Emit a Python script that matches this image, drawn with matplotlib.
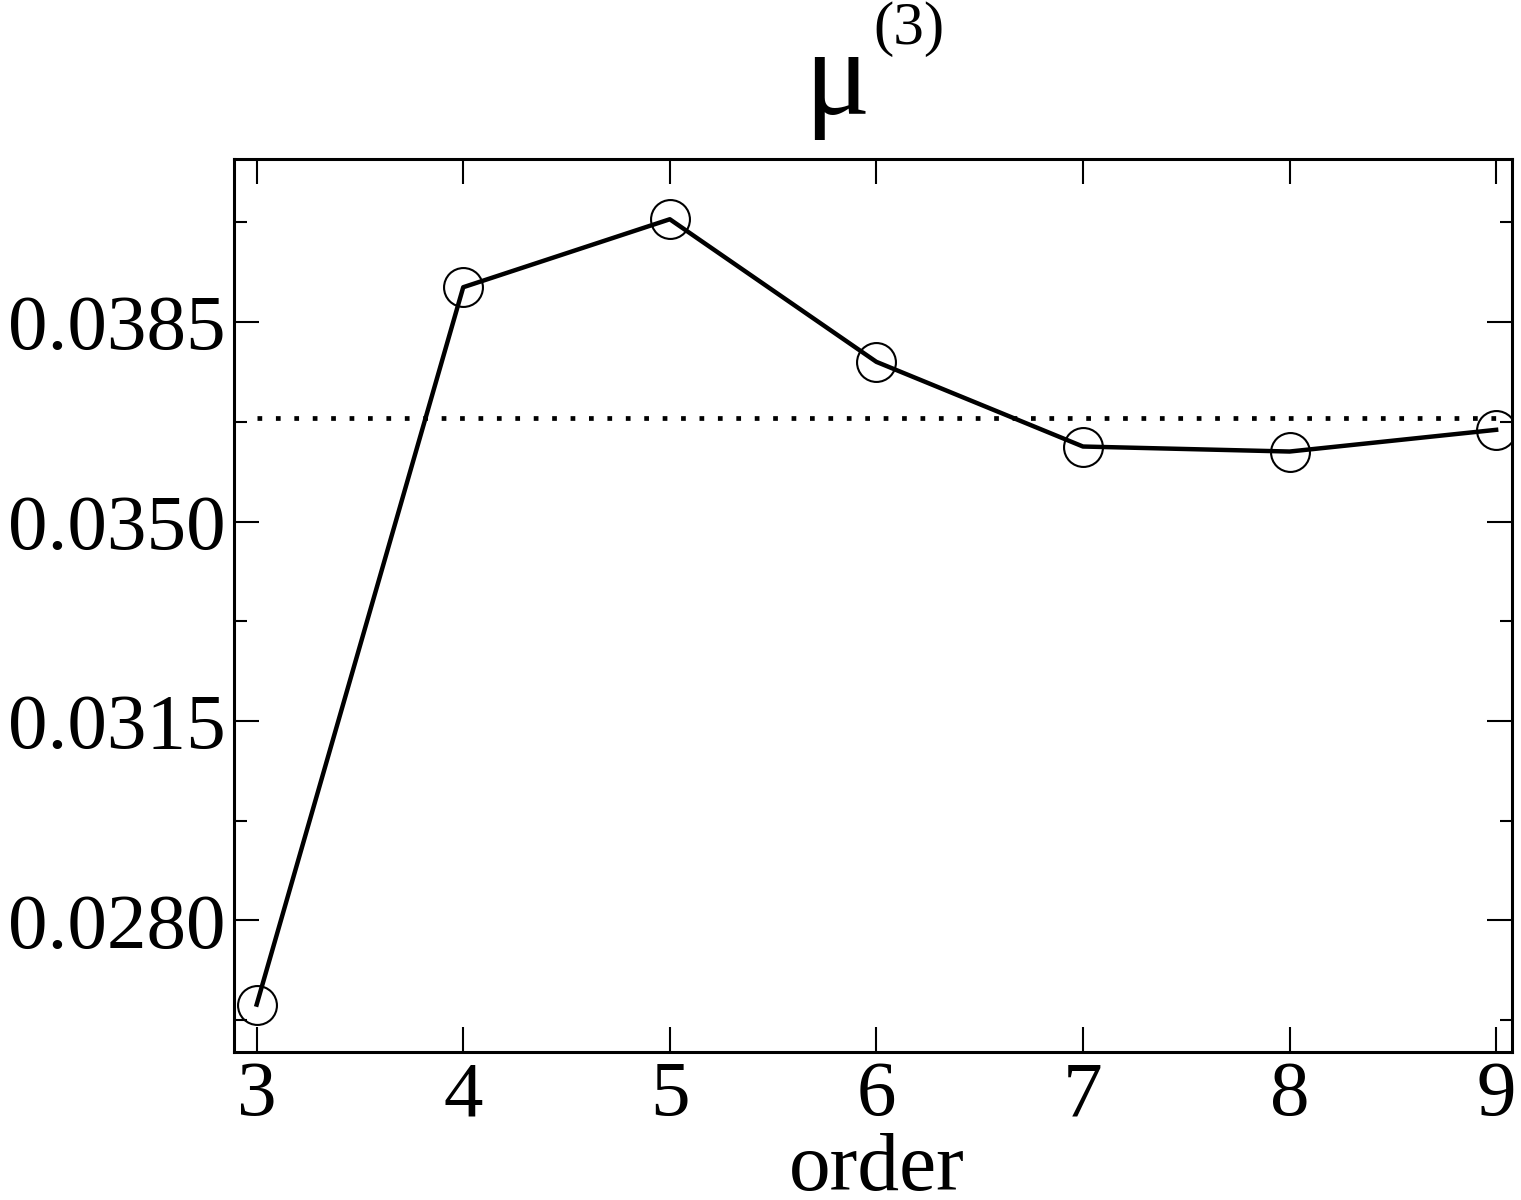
import matplotlib
matplotlib.use("Agg")
import matplotlib.pyplot as plt
from matplotlib.ticker import MultipleLocator, FixedLocator

# values
order = [3, 4, 5, 6, 7, 8, 9]
mu3 = [0.026523, 0.039114, 0.040307, 0.037804, 0.036318, 0.036230, 0.036611]
mu3_limit = 0.036812
ytick_vals = [0.0280, 0.0315, 0.0350, 0.0385]
ytick_labels = ["0.0280", "0.0315", "0.0350", "0.0385"]

plt.rcParams['font.family'] = ['Liberation Serif', 'DejaVu Serif']

fig = plt.figure(figsize=(15.21, 12), dpi=100)
ax = fig.add_axes([0.1538, 0.1231, 0.8403, 0.7440])

# reference value (dotted)
ax.plot([order[0], order[-1]], [mu3_limit, mu3_limit], color='black', lw=3.4,
        linestyle=(0, (1, 2.9)), dash_capstyle='butt')
# series
ax.plot(order, mu3, color='black', lw=3.2, marker='o', markersize=28,
        markerfacecolor='none', markeredgecolor='black', markeredgewidth=1.5)

ax.set_xlim(2.890, 9.077)
ax.set_ylim(0.025686, 0.041356)
ax.xaxis.set_major_locator(FixedLocator(order))
ax.set_xticks(order)
ax.set_xticklabels([str(o) for o in order])
ax.set_yticks(ytick_vals)
ax.set_yticklabels(ytick_labels)
ax.yaxis.set_minor_locator(MultipleLocator(0.00175))

ax.tick_params(which='both', direction='in', top=True, right=True, width=1.5,
               labelsize=57, colors='black')
ax.tick_params(which='major', length=18)
ax.tick_params(which='minor', length=9)
ax.tick_params(axis='x', pad=6)
ax.tick_params(axis='y', pad=6)
for s in ax.spines.values():
    s.set_linewidth(2.2)

fig.text(0.5766, 0.0085, "order", fontsize=60, ha='center', va='baseline')

# title mu^(3)
fig.text(0.529, 0.905, "\u03bc", fontsize=88, ha='left', va='baseline')
fig.text(0.574, 0.963, "(3)", fontsize=44, ha='left', va='baseline')

fig.savefig("out.png", dpi=100)
